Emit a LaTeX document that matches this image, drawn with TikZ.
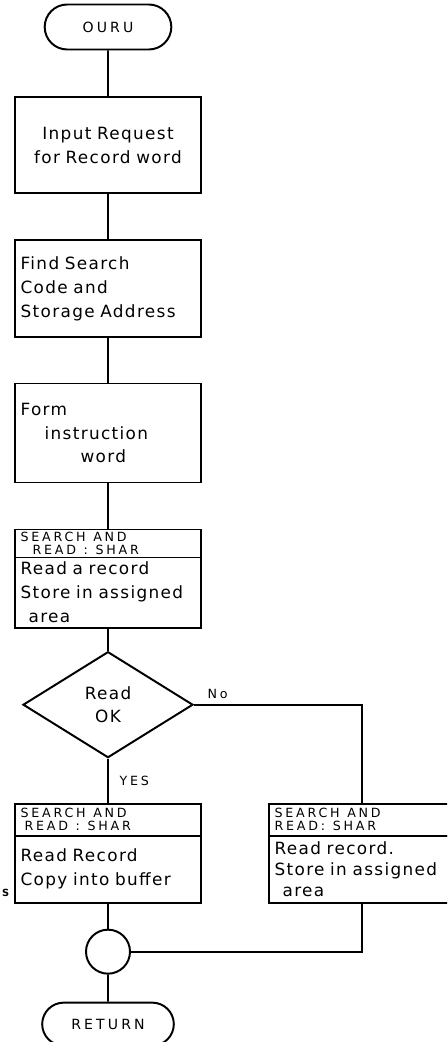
\documentclass[tikz,border=0pt]{standalone}
\usepackage{fontspec}
\setmainfont{DejaVu Sans}
\newfontfamily\capsfont[LetterSpace=22]{DejaVu Sans}
\newfontfamily\handfont[LetterSpace=8,WordSpace=1.2]{DejaVu Sans}
\newcommand{\gap}{\hspace{0.6em}}
\usetikzlibrary{positioning,shapes.geometric,shapes.misc}
\tikzstyle{term} = [draw, rounded rectangle, minimum width=3.4cm, minimum height=1.125cm, line width=1.4pt, font=\capsfont\fontsize{10}{11}\selectfont]
\tikzstyle{block} = [draw, rectangle, minimum width=4.65cm, text width=4.37cm, inner xsep=0.14cm, outer sep=0pt, line width=1.4pt, align=left, font=\handfont\fontsize{12}{17}\selectfont]
\tikzstyle{head} = [block, minimum height=0.7cm, inner ysep=1pt, font=\capsfont\fontsize{9}{9.5}\selectfont]
\tikzstyle{decision} = [draw, diamond, minimum width=4.25cm, minimum height=2.65cm, inner sep=0pt, line width=1.4pt, align=center, font=\handfont\fontsize{12}{17}\selectfont]
\tikzstyle{merge} = [draw, circle, minimum size=1.1cm, line width=1.4pt]
\tikzstyle{line} = [draw, line width=1.4pt]
\tikzstyle{lbl} = [font=\capsfont\fontsize{9}{10}\selectfont]

\begin{document}
\begin{tikzpicture}
	\useasboundingbox (0,0) rectangle (11.175,-26.05);
	\clip (0,0) rectangle (11.175,-26.05);
	% main column
	\node (t0) [term] at (2.7,-0.675) {OURU};
	\node (b1) [block, below=1.175cm of t0, minimum height=2.4cm, align=center] {Input Request\\for Record word\\[2mm]};
	\node (b2) [block, below=1.175cm of b1, minimum height=2.425cm] {Find Search\\Code and\\Storage Address};
	\node (b3) [block, below=1.15cm of b2, minimum height=2.475cm] {Form\\\hspace*{0.6cm}instruction\\\hspace*{1.5cm}word};
	\node (h4) [head, below=1.175cm of b3] {SEARCH\gap AND\\\hspace*{0.3cm}READ\gap:\gap SHAR};
	\node (b4) [block, below=0pt of h4, minimum height=1.75cm] {Read a record\\Store in assigned\\\hspace*{0.2cm}area};
	\node (d1) [decision, below=0.575cm of b4] {Read\\OK};
	% the two branches
	\node (h5) [head, below=1.125cm of d1, minimum height=0.8cm] {SEARCH\gap AND\\\hspace*{0.1cm}READ\gap:\gap SHAR};
	\node (b5) [block, below=0pt of h5, minimum height=1.675cm] {Read Record\\Copy into buffer};
	\node (h6) [head, right=1.7cm of h5, minimum height=0.8cm] {SEARCH\gap AND\\READ:\gap SHAR};
	\node (b6) [block, below=0pt of h6, minimum height=1.675cm, font=\handfont\fontsize{12}{15}\selectfont] {Read record.\\Store in assigned\\\hspace*{0.2cm}area};
	\node (c1) [merge, below=0.65cm of b5] {};
	\node (t1) [term, below=0.675cm of c1, minimum width=3.525cm, minimum height=1.075cm] {RETURN};
	\node (s) at (0.14,-22.33) {\fontsize{7}{7}\selectfont\textbf{S}};
	%
	\draw[line] (t0) -- (b1);
	\draw[line] (b1) -- (b2);
	\draw[line] (b2) -- (b3);
	\draw[line] (b3) -- (h4);
	\draw[line] (b4) -- (d1);
	\draw[line] (d1) -- node[lbl, right=0.15cm] {YES} (h5);
	\draw[line] (d1.east) -| node[lbl, pos=0.07, above] {No} (h6.north);
	\draw[line] (b5) -- (c1);
	\draw[line] (b6.south) |- (c1.east);
	\draw[line] (c1) -- (t1);
\end{tikzpicture}
\end{document}
